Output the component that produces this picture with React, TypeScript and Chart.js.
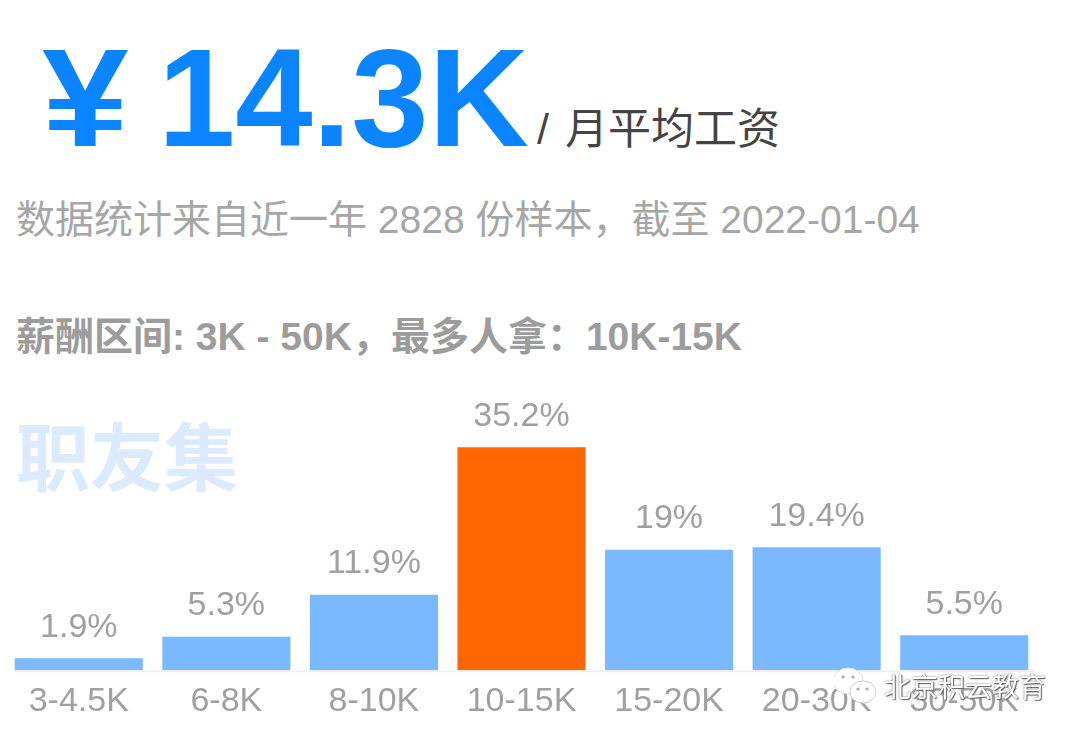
import React, { useEffect, useRef } from 'react';
import { Chart, registerables } from 'chart.js';
Chart.register(...registerables);

const categories = ['3-4.5K', '6-8K', '8-10K', '10-15K', '15-20K', '20-30K', '30-50K'];
const shares = [1.9, 5.3, 11.9, 35.2, 19, 19.4, 5.5];
const barColors = ['#7ab8ff', '#7ab8ff', '#7ab8ff', '#ff6600', '#7ab8ff', '#7ab8ff', '#7ab8ff'];

const latin = '"Liberation Sans", "Noto Sans CJK SC", sans-serif';

// value labels above the bars and the short baseline that starts at the first bar
const valueLabels = {
    id: 'valueLabels',
    beforeDatasetsDraw(chart: any) {
        const ctx = chart.ctx;
        const first = chart.getDatasetMeta(0).data[0];
        const y = chart.scales.y.getPixelForValue(0);
        ctx.save();
        ctx.strokeStyle = '#f0f0f0';
        ctx.lineWidth = 2;
        ctx.beginPath();
        ctx.moveTo(first.x - first.width / 2, y + 1);
        ctx.lineTo(chart.chartArea.right - 4, y + 1);
        ctx.stroke();
        ctx.restore();
    },
    afterDatasetsDraw(chart: any) {
        const ctx = chart.ctx;
        ctx.save();
        ctx.font = '34px ' + latin;
        ctx.fillStyle = '#a0a0a0';
        ctx.textAlign = 'center';
        ctx.textBaseline = 'bottom';
        chart.getDatasetMeta(0).data.forEach((bar: any, i: number) => {
            ctx.fillText(shares[i] + '%', bar.x, bar.y - 14);
        });
        ctx.restore();
    },
};

const text = (left: number, top: number, size: number, color: string, weight = 400): React.CSSProperties => ({
    position: 'absolute',
    left,
    top,
    fontSize: size,
    lineHeight: 1,
    color,
    fontWeight: weight,
    fontFamily: latin,
    whiteSpace: 'nowrap',
});

const App: React.FC = () => {
    const ref = useRef<HTMLCanvasElement>(null);

    useEffect(() => {
        document.body.style.margin = '0';
        if (!ref.current) return;
        const chart = new Chart(ref.current, {
            type: 'bar',
            data: {
                labels: categories,
                datasets: [
                    {
                        data: shares,
                        backgroundColor: barColors,
                        borderWidth: 0,
                        barPercentage: 0.868,
                        categoryPercentage: 1,
                    },
                ],
            },
            options: {
                responsive: false,
                animation: false,
                layout: { padding: { left: 5, right: 42, top: 0, bottom: 12 } },
                plugins: { legend: { display: false }, tooltip: { enabled: false } },
                scales: {
                    x: {
                        grid: { display: false },
                        border: { display: false },
                        ticks: {
                            color: '#a0a0a0',
                            font: { size: 34, family: latin },
                            padding: 3,
                            maxRotation: 0,
                            autoSkip: false,
                        },
                    },
                    y: {
                        display: false,
                        min: 0,
                        max: 105.8,
                    },
                },
            },
            plugins: [valueLabels],
        });

        return () => {
            chart.destroy();
        };
    }, []);

    return (
        <div style={{ position: 'relative', width: 1080, height: 737, overflow: 'hidden', background: '#fff', filter: 'blur(0.5px)' }}>
            <div style={{ ...text(42, 28, 139, '#0a84ff', 700), transform: 'scaleX(1.12)', transformOrigin: 'left center' }}>¥</div>
            <div style={text(158, 28, 139, '#0a84ff', 700)}>14.3K</div>
            <div style={{ ...text(537, 108, 43, '#444'), wordSpacing: 4 }}>/ 月平均工资</div>
            <div style={text(16, 200, 39, '#a6a6a6')}>数据统计来自近一年 2828 份样本，截至 2022-01-04</div>
            <div style={text(16, 317, 39, '#9c9c9c', 700)}>薪酬区间: 3K - 50K，最多人拿：10K-15K</div>
            <div style={text(16, 423, 74, '#dceafe', 700)}>职友集</div>
            <canvas ref={ref} width={1080} height={737} style={{ position: 'absolute', left: 0, top: 0 }} />
            <svg width="46" height="40" viewBox="0 0 46 40" style={{ position: 'absolute', left: 834, top: 666 }}>
                <ellipse cx="14" cy="15" rx="15" ry="13" fill="#fff" stroke="#ddd" />
                <ellipse cx="29" cy="26" rx="13" ry="11" fill="#fff" stroke="#ccc" />
                <circle cx="9" cy="11" r="1.6" fill="#aaa" />
                <circle cx="19" cy="11" r="1.6" fill="#aaa" />
                <circle cx="24" cy="23" r="1.6" fill="#aaa" />
                <circle cx="33" cy="23" r="1.6" fill="#aaa" />
            </svg>
            <div
                style={{
                    ...text(884, 675, 27, '#fff'),
                    textShadow: '0 0 2px #555, 1px 1px 1px #666',
                }}
            >
                北京积云教育
            </div>
        </div>
    );
};

export default App;
